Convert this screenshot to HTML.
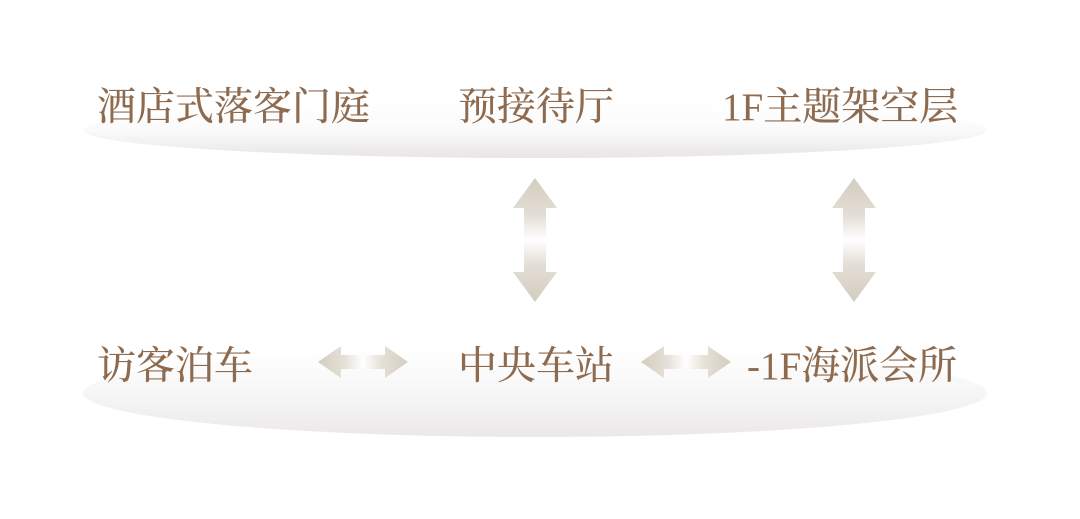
<!DOCTYPE html>
<html><head><meta charset="utf-8"><style>
html,body{margin:0;padding:0;background:#fff;width:1080px;height:519px;overflow:hidden}
svg{display:block}
text{font-family:"Liberation Serif","Noto Serif CJK SC",serif;fill:#8e6b4f;font-size:39px;font-weight:500}
</style></head><body>
<svg width="1080" height="519" viewBox="0 0 1080 519">
<defs>
<linearGradient id="e1" x1="0" y1="0" x2="0" y2="1">
<stop offset="0" stop-color="#fff"/><stop offset="0.5" stop-color="#fbfafa"/><stop offset="1" stop-color="#e8e5e6"/></linearGradient>
<linearGradient id="e2" x1="0" y1="0" x2="0" y2="1">
<stop offset="0" stop-color="#fff"/><stop offset="0.5" stop-color="#f7f6f6"/><stop offset="1" stop-color="#ebe8e9"/></linearGradient>
<linearGradient id="av" x1="0" y1="0" x2="0" y2="1">
<stop offset="0" stop-color="#d3ccbf"/><stop offset="0.3" stop-color="#e3ded5"/><stop offset="0.5" stop-color="#fff"/><stop offset="0.7" stop-color="#e3ded5"/><stop offset="1" stop-color="#d3ccbf"/></linearGradient>
<linearGradient id="ah" x1="0" y1="0" x2="1" y2="0">
<stop offset="0" stop-color="#d3ccbf"/><stop offset="0.3" stop-color="#e6e1d8"/><stop offset="0.5" stop-color="#fff"/><stop offset="0.7" stop-color="#e6e1d8"/><stop offset="1" stop-color="#d3ccbf"/></linearGradient>
</defs>
<ellipse cx="535" cy="130" rx="452" ry="28" fill="url(#e1)"/>
<ellipse cx="535" cy="393" rx="452" ry="44" fill="url(#e2)"/>
<g fill="url(#av)">
<polygon points="535,178 557,208 546,208 546,272 557,272 535,302 513,272 524,272 524,208 513,208"/>
<polygon points="854,178 876,208 865,208 865,272 876,272 854,302 832,272 843,272 843,208 832,208"/>
</g>
<g fill="url(#ah)">
<polygon points="318,362 341,346 341,355 385,355 385,346 408,362 385,378 385,369 341,369 341,378"/>
<polygon points="641,362 664,346 664,355 708,355 708,346 731,362 708,378 708,369 664,369 664,378"/>
</g>
<text x="97" y="120">酒店式落客门庭</text>
<text x="458" y="120">预接待厅</text>
<text x="722" y="120">1F主题架空层</text>
<text x="97" y="379">访客泊车</text>
<text x="458" y="379">中央车站</text>
<text x="747" y="379">-1F海派会所</text>
</svg>
</body></html>
